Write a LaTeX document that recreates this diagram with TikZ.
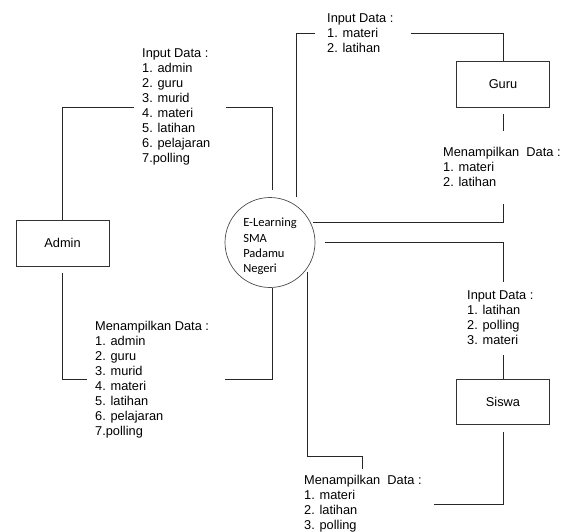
\documentclass[tikz,border=0pt]{standalone}
\usepackage{fontspec}
\setmainfont{Liberation Sans}
\newfontfamily\calibri{Carlito}
\begin{document}
\begin{tikzpicture}[
    x=1pt, y=-1pt,
    entity/.style={
        draw=black!80,
        line width=0.8pt,
        minimum width=93pt,
        minimum height=46pt,
        font=\fontsize{12.8}{15}\selectfont
    },
    proc/.style={
        draw=black!70,
        line width=0.7pt,
        circle,
        minimum size=90pt,
        inner sep=0pt,
        align=left,
        font=\calibri\fontsize{12.5}{15.3}\selectfont
    },
    lbl/.style={
        anchor=west,
        align=left,
        inner xsep=8pt,
        inner ysep=2pt,
        font=\fontsize{12.8}{15}\selectfont
    },
    link/.style={draw=black!85, line width=0.8pt}
]
    \useasboundingbox (0,0) rectangle (573,531);

    \node[entity] (admin) at (62.5,243) {Admin};
    \node[entity] (guru) at (503,84) {Guru};
    \node[entity, minimum height=45pt] (siswa) at (503,401.5) {Siswa};
    \node[proc] (elearn) at (270,242.5)
        {\rule{0pt}{17pt}E-Learning\\SMA\\Padamu\\Negeri};

    \node[lbl] (inAdmin) at (134,107)
        {Input Data :\\1. admin\\2. guru\\3. murid\\4. materi\\5. latihan\\6. pelajaran\\7.polling};
    \node[lbl] (outAdmin) at (87,379.5)
        {Menampilkan Data :\\1. admin\\2. guru\\3. murid\\4. materi\\5. latihan\\6. pelajaran\\7.polling};
    \node[lbl] (inGuru) at (319,33)
        {Input Data :\\1. materi\\2. latihan};
    \node[lbl] (outGuru) at (435,167)
        {Menampilkan~ Data :\\1. materi\\2. latihan};
    \node[lbl] (inSiswa) at (459,318)
        {Input Data :\\1. latihan\\2. polling\\3. materi};
    \node[lbl] (outSiswa) at (296,504)
        {Menampilkan~ Data :\\1. materi\\2. latihan\\3. polling};

    \draw[link] (admin.north) |- (inAdmin.west);
    \draw[link, shorten <=8pt, shorten >=7pt] (inAdmin.east) -| (elearn.87);
    \draw[link, shorten <=7pt] (admin.south) |- (outAdmin.west);
    \draw[link, shorten <=8pt] (outAdmin.east) -| (elearn.-87);

    \draw[link, shorten <=8pt, shorten >=4pt] (elearn.55) |- (inGuru.west);
    \draw[link, shorten <=9pt] (inGuru.east) -| (guru.north);
    \draw[link, shorten <=7pt, shorten >=14pt] (guru.south) -- (guru.south |- outGuru.north);
    \draw[link, shorten <=15pt, shorten >=2pt] (guru.south |- outGuru.south) |- (elearn.26);

    \draw[link, shorten <=10pt, shorten >=7pt] (elearn.east) -| (siswa.north |- inSiswa.north);
    \draw[link, shorten <=8pt] (siswa.north |- inSiswa.south) -- (siswa.north);
    \draw[link, shorten <=8pt, shorten >=4pt] (siswa.south) |- (outSiswa.east);
    \draw[link, shorten <=3pt, shorten >=4pt] (elearn.-35) |- ([yshift=17pt]outSiswa.north) -- (outSiswa.north);
\end{tikzpicture}
\end{document}
